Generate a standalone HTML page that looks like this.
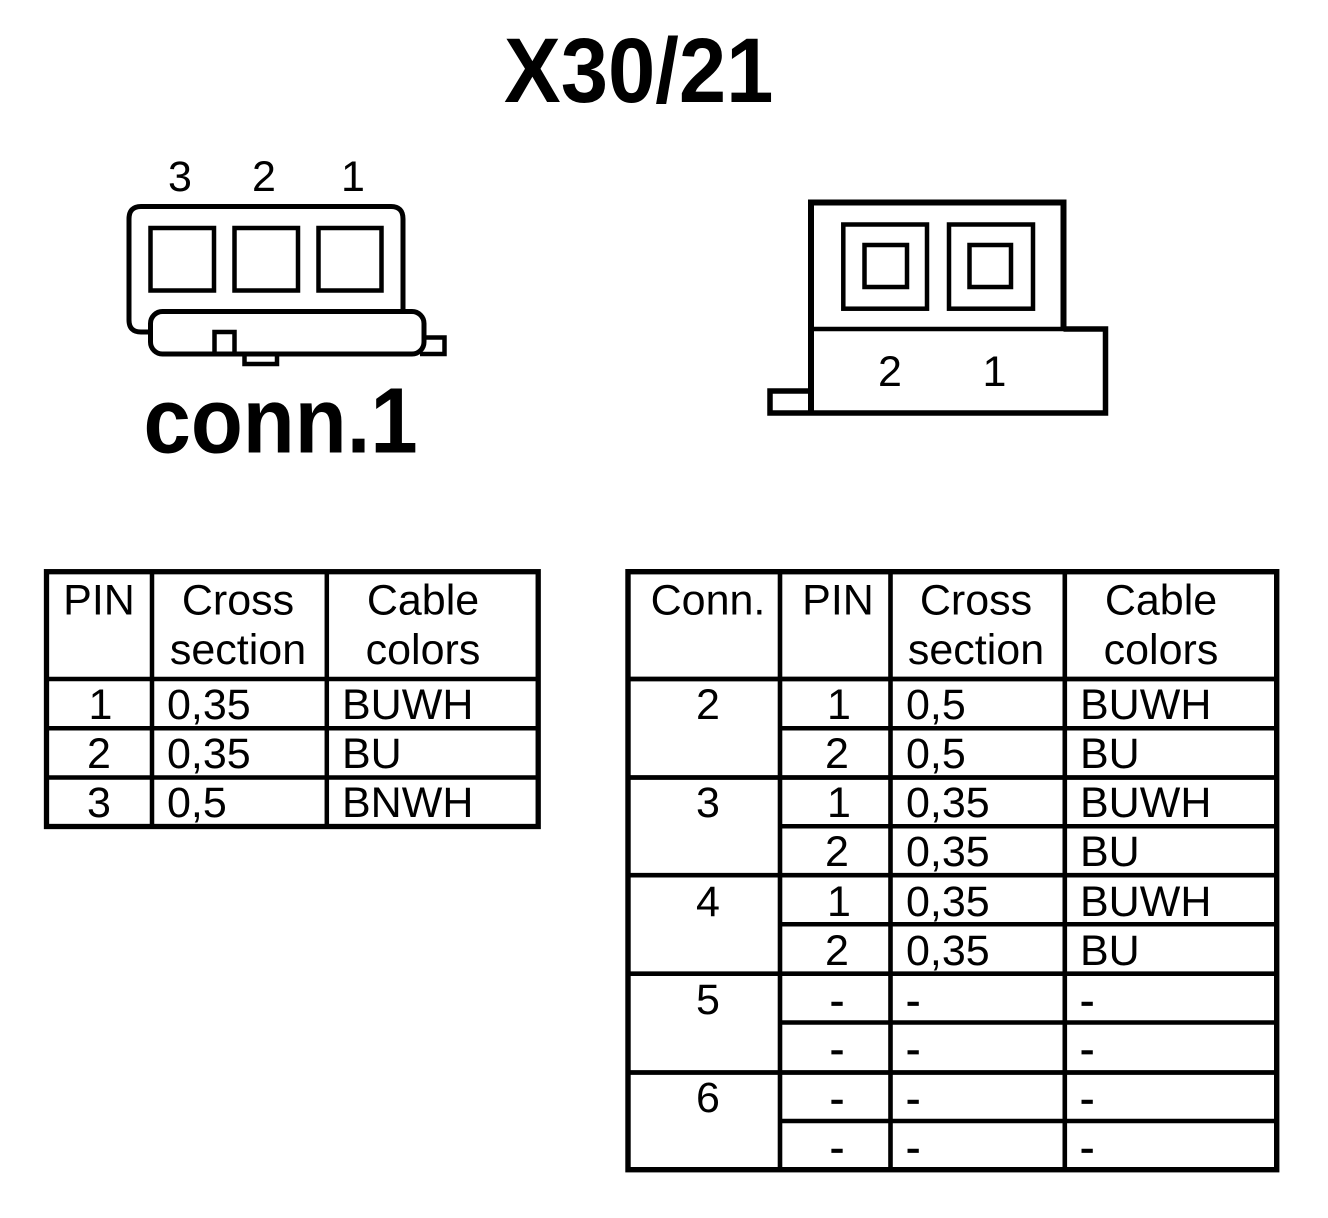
<!DOCTYPE html>
<html><head><meta charset="utf-8"><style>
html,body{margin:0;padding:0;background:#fff}
svg{display:block}
text{font-family:"Liberation Sans",sans-serif;fill:#000}
.t{font-size:43px}
.m{text-anchor:middle}
.d{stroke:#000;stroke-width:.8px}
</style></head><body>
<svg width="1328" height="1218" viewBox="0 0 1328 1218" xmlns="http://www.w3.org/2000/svg">
<rect width="1328" height="1218" fill="#fff"/>
<text transform="translate(504,102) scale(.924,1)" font-size="92" font-weight="bold">X30/21</text>
<text transform="translate(143.5,452.5) scale(.915,1)" font-size="93" font-weight="bold">conn.1</text>

<g fill="none" stroke="#000" stroke-width="5">
<!-- left connector -->
<path d="M151 332H141Q129 332 129 320V219Q129 206.5 141 206.5H391Q403 206.5 403 219V312"/>
<g stroke-width="4.5">
<rect x="150.5" y="228" width="63.5" height="62.5"/>
<rect x="234.5" y="228" width="63.5" height="62.5"/>
<rect x="318.5" y="228" width="63" height="62.5"/>
</g>
<path d="M424 337.5H444.5V354H420" stroke-width="4.5"/>
<path d="M244.5 355V364H277V355" stroke-width="4.5"/>
<rect x="150.5" y="311.5" width="273.5" height="42.5" rx="12" fill="#fff"/>
<path d="M214.5 353V332H234.5V353" stroke-width="4.5"/>
<!-- right connector -->
<path d="M811 413V202.5H1063.5V329" stroke-width="6"/>
<path d="M811 329H1105.5" stroke-width="4.5"/>
<path d="M1063.5 329H1105.5V413H770V391H811" stroke-width="5.5"/>
<g stroke-width="4.5">
<rect x="843.3" y="224.5" width="83.7" height="84.2"/>
<rect x="864.5" y="245" width="42.5" height="42"/>
<rect x="949" y="224.5" width="84" height="84.2"/>
<rect x="969.5" y="245" width="41.5" height="42"/>
</g>
</g>
<g>
<text class="t m" x="180" y="191">3</text>
<text class="t m" x="264" y="191">2</text>
<text class="t m" x="353" y="191">1</text>
<text class="t m" x="890" y="386">2</text>
<text class="t m" x="994.5" y="386">1</text>
</g>

<!-- left table -->
<g fill="none" stroke="#000">
<path d="M47 679H538M47 728.3H538M47 777.5H538M152 572V826M326.8 572V826" stroke-width="4.5"/>
<rect x="46.5" y="571.7" width="491.7" height="254.8" stroke-width="5.3"/>
</g>
<g>
<text class="t m" x="99" y="614.5">PIN</text>
<text class="t m" x="238" y="614.5">Cross</text>
<text class="t m" x="238" y="664">section</text>
<text class="t m" x="423" y="614.5">Cable</text>
<text class="t m" x="423" y="664">colors</text>
<text class="t m" x="100.5" y="719">1</text><text class="t" x="167" y="719">0,35</text><text class="t" x="342" y="719">BUWH</text>
<text class="t m" x="99" y="768">2</text><text class="t" x="167" y="768">0,35</text><text class="t" x="342" y="768">BU</text>
<text class="t m" x="99" y="817">3</text><text class="t" x="167" y="817">0,5</text><text class="t" x="342" y="817">BNWH</text>
</g>

<!-- right table -->
<g fill="none" stroke="#000">
<path d="M628 679H1277M628 777.5H1277M628 875.2H1277M628 973.7H1277M628 1072.5H1277" stroke-width="4.7"/>
<path d="M780 728.3H1277M780 826.3H1277M780 924.3H1277M780 1022.5H1277M780 1121H1277" stroke-width="4.5"/>
<path d="M780 572V1170M890.5 572V1170M1064.8 572V1170" stroke-width="4.6"/>
<rect x="628" y="571.7" width="648.7" height="598" stroke-width="5.4"/>
</g>
<g>
<text class="t m" x="708" y="614.5">Conn.</text>
<text class="t m" x="838" y="614.5">PIN</text>
<text class="t m" x="976" y="614.5">Cross</text>
<text class="t m" x="976" y="664">section</text>
<text class="t m" x="1161" y="614.5">Cable</text>
<text class="t m" x="1161" y="664">colors</text>

<text class="t m" x="708" y="719">2</text>
<text class="t m" x="839" y="719">1</text><text class="t" x="906" y="719">0,5</text><text class="t" x="1080" y="719">BUWH</text>
<text class="t m" x="837" y="768">2</text><text class="t" x="906" y="768">0,5</text><text class="t" x="1080" y="768">BU</text>

<text class="t m" x="708" y="817">3</text>
<text class="t m" x="839" y="817">1</text><text class="t" x="906" y="817">0,35</text><text class="t" x="1080" y="817">BUWH</text>
<text class="t m" x="837" y="866">2</text><text class="t" x="906" y="866">0,35</text><text class="t" x="1080" y="866">BU</text>

<text class="t m" x="708" y="916">4</text>
<text class="t m" x="839" y="916">1</text><text class="t" x="906" y="916">0,35</text><text class="t" x="1080" y="916">BUWH</text>
<text class="t m" x="837" y="965">2</text><text class="t" x="906" y="965">0,35</text><text class="t" x="1080" y="965">BU</text>

<text class="t m" x="708" y="1014">5</text>
<text class="t m d" x="837" y="1015">-</text><text class="t d" x="906" y="1015">-</text><text class="t d" x="1080" y="1015">-</text>
<text class="t m d" x="837" y="1063.5">-</text><text class="t d" x="906" y="1063.5">-</text><text class="t d" x="1080" y="1063.5">-</text>

<text class="t m" x="708" y="1112">6</text>
<text class="t m d" x="837" y="1113">-</text><text class="t d" x="906" y="1113">-</text><text class="t d" x="1080" y="1113">-</text>
<text class="t m d" x="837" y="1162">-</text><text class="t d" x="906" y="1162">-</text><text class="t d" x="1080" y="1162">-</text>
</g>
</svg>
</body></html>
